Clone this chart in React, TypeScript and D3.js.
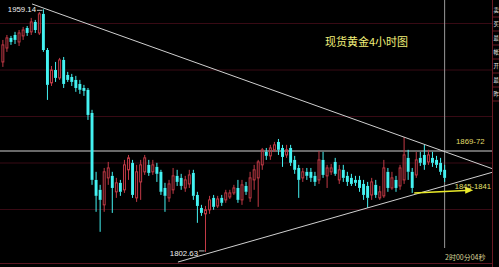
import React from "react";
import * as d3 from "d3";

const W = 499;
const H = 267;

// 4-hour spot gold candles
const opens = [
  1925.2, 1934.2, 1940.7, 1942.6, 1938.1, 1942.0, 1947.1, 1944.6, 1951.0, 1943.9,
  1956.2, 1932.9, 1911.7, 1920.0, 1914.9, 1926.5, 1916.8, 1915.5, 1913.6, 1911.0,
  1908.4, 1907.2, 1892.3, 1849.1, 1842.7, 1833.0, 1850.4, 1851.7, 1841.4, 1847.2,
  1842.7, 1855.6, 1860.1, 1837.5, 1847.8, 1854.3, 1858.8, 1854.3, 1857.5, 1854.3,
  1843.9, 1837.5, 1842.7, 1851.7, 1850.4, 1843.9, 1846.5, 1853.6, 1839.4, 1831.0,
  1827.2, 1829.8, 1837.5, 1832.3, 1837.5, 1836.2, 1838.1, 1840.7, 1843.9, 1836.2,
  1845.2, 1837.5, 1849.1, 1850.4, 1858.8, 1867.2, 1864.6, 1868.5, 1873.6, 1869.7,
  1865.2, 1869.7, 1862.0, 1856.8, 1850.4, 1854.3, 1854.3, 1851.7, 1849.1, 1862.0,
  1851.7, 1854.3, 1860.7, 1849.1, 1855.6, 1851.7, 1850.4, 1849.1, 1849.1, 1846.5,
  1845.2, 1839.4, 1845.9, 1837.5, 1838.8, 1854.3, 1843.9, 1849.1, 1845.2, 1849.1,
  1863.3, 1854.3, 1852.3, 1863.3, 1865.2, 1860.7, 1863.3, 1862.0, 1860.1, 1855.6,
];
const highs = [
  1939.4, 1942.6, 1942.0, 1944.6, 1945.8, 1947.8, 1948.4, 1953.6, 1952.3, 1957.4,
  1959.14, 1934.2, 1922.6, 1925.2, 1927.8, 1928.4, 1918.8, 1917.5, 1916.2, 1913.6,
  1910.4, 1908.4, 1894.3, 1854.3, 1845.9, 1856.8, 1860.7, 1854.3, 1850.4, 1849.1,
  1862.0, 1865.2, 1862.0, 1858.8, 1862.0, 1865.2, 1862.0, 1862.0, 1860.1, 1855.6,
  1847.2, 1849.1, 1856.8, 1855.6, 1853.0, 1851.7, 1855.6, 1855.6, 1841.4, 1833.0,
  1832.3, 1838.8, 1839.4, 1838.8, 1839.4, 1842.7, 1842.7, 1845.9, 1849.1, 1849.1,
  1847.8, 1854.3, 1858.8, 1862.0, 1869.7, 1869.7, 1871.7, 1873.6, 1875.5, 1871.7,
  1871.7, 1871.7, 1864.6, 1858.8, 1856.8, 1856.8, 1856.8, 1854.3, 1867.8, 1867.2,
  1858.8, 1859.4, 1863.3, 1858.8, 1858.8, 1854.3, 1853.0, 1851.7, 1851.7, 1849.1,
  1847.8, 1850.4, 1849.1, 1845.2, 1862.0, 1856.8, 1854.3, 1851.7, 1858.8, 1876.8,
  1868.5, 1856.8, 1867.2, 1867.2, 1871.7, 1868.5, 1867.2, 1864.6, 1863.3, 1858.8,
];
const lows = [
  1922.0, 1931.7, 1936.2, 1936.8, 1935.5, 1939.4, 1942.0, 1942.6, 1943.9, 1942.6,
  1931.7, 1900.7, 1909.7, 1912.3, 1913.6, 1908.4, 1912.3, 1909.7, 1905.9, 1904.6,
  1903.3, 1887.8, 1845.9, 1828.5, 1815.6, 1828.5, 1845.9, 1827.8, 1837.5, 1838.8,
  1840.7, 1849.1, 1837.5, 1834.9, 1836.2, 1852.3, 1851.7, 1852.3, 1847.8, 1839.4,
  1828.5, 1834.9, 1840.1, 1845.2, 1842.7, 1841.4, 1843.9, 1836.2, 1821.4, 1825.9,
  1802.63, 1827.2, 1829.8, 1831.0, 1832.3, 1834.3, 1836.8, 1839.4, 1834.3, 1833.0,
  1839.4, 1834.9, 1842.7, 1831.7, 1855.6, 1862.0, 1862.0, 1867.2, 1865.2, 1857.5,
  1863.3, 1858.1, 1853.0, 1837.5, 1847.8, 1849.1, 1847.8, 1845.2, 1846.5, 1850.4,
  1843.9, 1852.3, 1851.7, 1846.5, 1847.8, 1845.2, 1845.2, 1845.2, 1841.4, 1836.2,
  1831.0, 1836.2, 1837.5, 1836.2, 1837.5, 1841.4, 1842.7, 1841.4, 1842.7, 1846.5,
  1849.1, 1840.7, 1850.4, 1858.1, 1855.6, 1858.8, 1857.5, 1856.8, 1852.3, 1847.8,
];
const closes = [
  1936.2, 1940.7, 1938.1, 1939.4, 1943.9, 1945.8, 1943.9, 1951.0, 1945.8, 1956.2,
  1932.9, 1910.4, 1920.0, 1914.9, 1926.5, 1911.0, 1913.6, 1912.3, 1908.4, 1907.2,
  1906.5, 1891.0, 1849.1, 1838.8, 1836.2, 1854.3, 1856.8, 1843.9, 1847.2, 1841.4,
  1858.8, 1863.3, 1839.4, 1854.3, 1858.8, 1863.3, 1853.6, 1858.8, 1853.0, 1841.4,
  1838.8, 1846.5, 1851.7, 1847.8, 1845.2, 1849.1, 1852.3, 1838.8, 1832.3, 1827.8,
  1829.8, 1836.2, 1831.7, 1836.8, 1834.3, 1840.7, 1840.7, 1843.9, 1836.2, 1845.9,
  1841.4, 1850.4, 1855.6, 1860.7, 1868.5, 1864.6, 1869.7, 1871.7, 1868.5, 1863.9,
  1868.5, 1860.1, 1855.6, 1849.1, 1854.3, 1851.7, 1850.4, 1847.8, 1862.0, 1852.3,
  1856.8, 1856.8, 1853.0, 1855.6, 1850.4, 1847.8, 1846.5, 1847.2, 1843.9, 1839.4,
  1837.5, 1847.8, 1839.4, 1841.4, 1856.8, 1843.9, 1850.4, 1843.9, 1856.8, 1865.2,
  1854.3, 1843.9, 1862.0, 1860.1, 1858.8, 1865.2, 1860.1, 1858.8, 1854.3, 1850.4,
];

// price grid levels
const gridLevels = [1830, 1860, 1890, 1920, 1950];

// triangle trend lines as [bar index, price]
const upperTrend: [number, number][] = [[7.2, 1962.6], [121, 1856.1]];
const lowerTrend: [number, number][] = [[43.2, 1796.1], [121, 1854.2]];
// projected move arrow
const targetArrow: [number, number][] = [[101.5, 1840.6], [115.3, 1842.4]];

const crossPrice = 1867.8;
const highLabel = "1959.14";
const lowLabel = "1802.63";
const title = "现货黄金4小时图";
const resistLabel = "1869-72";
const supportLabel = "1845-1841";
const timerLabel = "2时00分04秒";
const sideChars = ["卖", "买", "最", "帐", "开", "最", "昨"];

const RED = "#c23a46";
const CYAN = "#44f2f2";
const GRID = "#380a14";

export default function App() {
  const n = opens.length;
  const plotRight = 492;
  const y = d3.scaleLinear().domain([1800, 1950]).range([256, 23.5]);
  const x = d3
    .scaleBand<number>()
    .domain(d3.range(n))
    .range([1, 446.5])
    .paddingInner(0.28)
    .paddingOuter(0.1);
  const bw = x.bandwidth();
  const cx = (i: number) => (x(i) as number) + bw / 2;
  const xi = d3.scaleLinear().domain([0, n - 1]).range([cx(0), cx(n - 1)]);
  const line = d3
    .line<[number, number]>()
    .x((d) => xi(d[0]))
    .y((d) => y(d[1]));

  const font = "'Liberation Sans', Arial, sans-serif";
  const cjk = "'Noto Sans CJK SC', sans-serif";

  const arrowEnd = targetArrow[1];
  const ax = xi(arrowEnd[0]);
  const ay = y(arrowEnd[1]);

  return (
    <svg
      width={W}
      height={H}
      style={{ position: "absolute", left: 0, top: 0, background: "#000" }}
    >
      <rect x={0} y={0} width={W} height={H} fill="#000" />
      <defs>
        <clipPath id="plot">
          <rect x={0} y={0} width={plotRight} height={264} />
        </clipPath>
      </defs>
      {/* grid */}
      {gridLevels.map((g) => (
        <line key={g} x1={0} x2={plotRight} y1={y(g)} y2={y(g)} stroke={GRID} strokeWidth={1} />
      ))}
      <line x1={0} x2={plotRight} y1={263.5} y2={263.5} stroke="#5a1420" strokeWidth={1} />
      <line x1={plotRight + 0.5} x2={plotRight + 0.5} y1={0} y2={H} stroke="#6a1a24" strokeWidth={1} />

      <g clipPath="url(#plot)">
        {/* crosshair */}
        <line x1={0} x2={plotRight} y1={y(crossPrice)} y2={y(crossPrice)} stroke="#8c8c8c" strokeWidth={1.5} />
        <line x1={cx(n - 1)} x2={cx(n - 1)} y1={0} y2={248} stroke="#9a9a9a" strokeWidth={1} />

        {/* candles */}
        {d3.range(n).map((i) => {
          const up = closes[i] >= opens[i];
          const col = up ? RED : CYAN;
          const top = y(Math.max(opens[i], closes[i]));
          const bot = y(Math.min(opens[i], closes[i]));
          const h = Math.max(1, bot - top);
          return (
            <g key={i}>
              <line x1={cx(i)} x2={cx(i)} y1={y(highs[i])} y2={top} stroke={col} strokeWidth={1} />
              <line x1={cx(i)} x2={cx(i)} y1={top + h} y2={y(lows[i])} stroke={col} strokeWidth={1} />
              {up ? (
                <rect x={(x(i) as number) + 0.5} y={top} width={bw - 1} height={h} fill="none" stroke={col} strokeWidth={1} />
              ) : (
                <rect x={x(i) as number} y={top} width={bw} height={h} fill={col} />
              )}
            </g>
          );
        })}

        {/* triangle */}
        <path d={line(upperTrend) || ""} stroke="#d0d0d0" strokeWidth={1} fill="none" />
        <path d={line(lowerTrend) || ""} stroke="#d0d0d0" strokeWidth={1} fill="none" />

        {/* arrow */}
        <path d={line(targetArrow) || ""} stroke="#eaea2a" strokeWidth={1.6} fill="none" />
        <path d={`M${ax + 3},${ay} L${ax - 5},${ay - 3.5} L${ax - 5},${ay + 3.5} Z`} fill="#eaea2a" />
      </g>

      {/* extreme labels */}
      <text x={36} y={12} textAnchor="end" fill="#f0f0f0" fontFamily={font} fontSize={7.8}>{highLabel}</text>
      <line x1={37} x2={cx(10) - 1} y1={y(highs[10]) + 1} y2={y(highs[10]) + 1} stroke="#bbbbbb" strokeWidth={1} />
      <text x={198} y={256} textAnchor="end" fill="#f0f0f0" fontFamily={font} fontSize={7.8}>{lowLabel}</text>
      <line x1={199} x2={cx(50) - 1} y1={y(lows[50]) - 1} y2={y(lows[50]) - 1} stroke="#bbbbbb" strokeWidth={1} />

      <text x={325} y={46} fill="#f2f07a" fontFamily={cjk} fontSize={11}>{title}</text>
      <text x={456} y={144} fill="#e0dc6a" fontFamily={font} fontSize={7.8}>{resistLabel}</text>
      <text x={491} y={189} textAnchor="end" fill="#e6e270" fontFamily={font} fontSize={7.6}>{supportLabel}</text>
      <text x={445} y={260} fill="#d8d49a" fontFamily={cjk} fontSize={7}>{timerLabel}</text>

      {/* side panel */}
      {sideChars.map((c, k) => (
        <g key={k}>
          <text x={493.5} y={12 + k * 14} fill="#e8e8e8" fontFamily={cjk} fontSize={5.4}>{c}</text>
          <line x1={493} x2={W} y1={17 + k * 14} y2={17 + k * 14} stroke="#6a1a24" />
        </g>
      ))}
    </svg>
  );
}
